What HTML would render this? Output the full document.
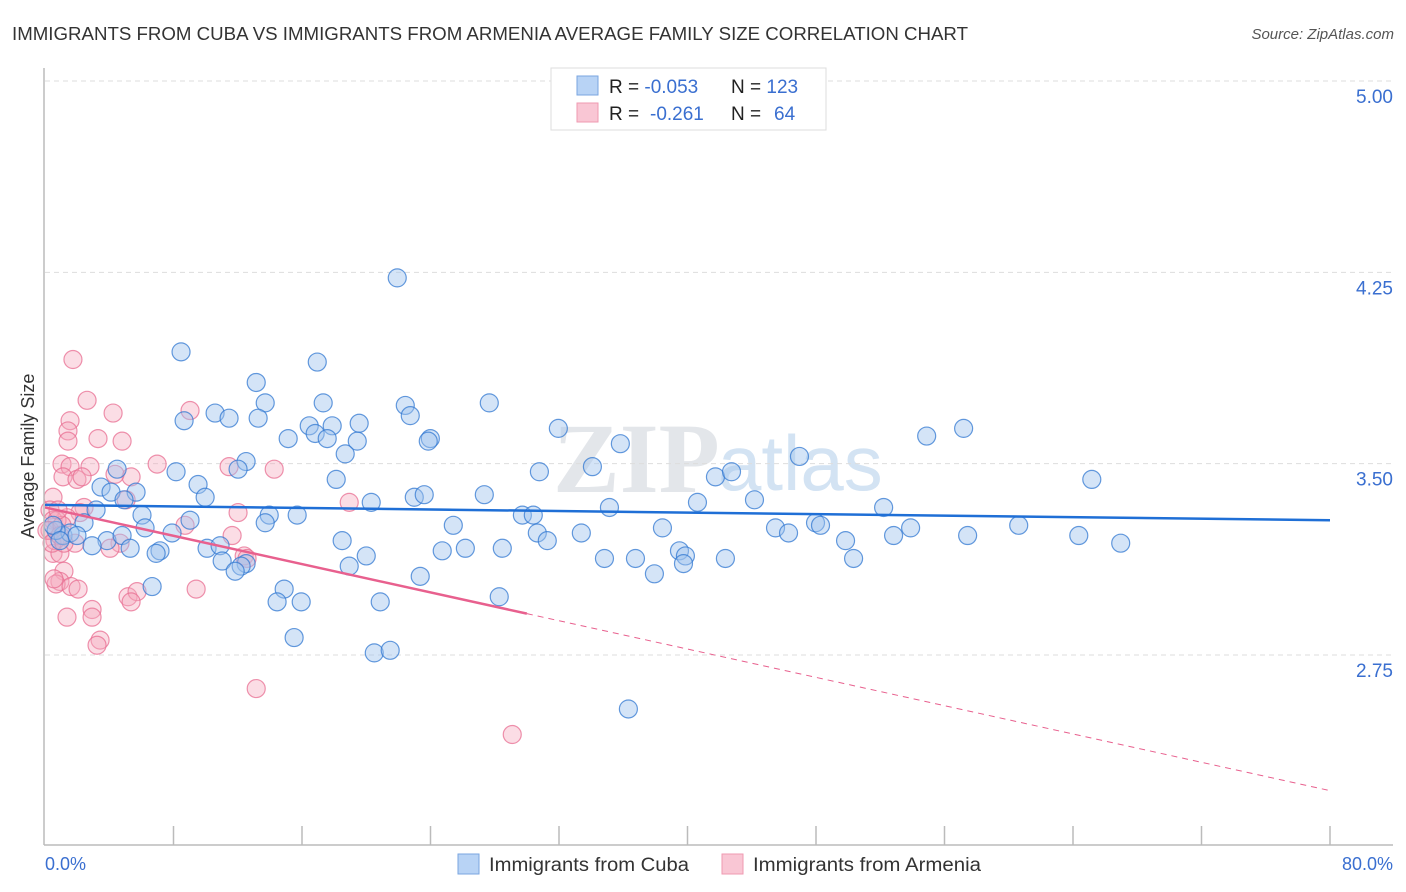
<!DOCTYPE html>
<html><head><meta charset="utf-8"><style>
body{margin:0;background:#fff;font-family:"Liberation Sans",sans-serif;}
svg{display:block}
</style></head><body>
<svg id="chart" width="1406" height="892">
<text x="12" y="40" font-size="18" fill="#333" textLength="956" lengthAdjust="spacingAndGlyphs">IMMIGRANTS FROM CUBA VS IMMIGRANTS FROM ARMENIA AVERAGE FAMILY SIZE CORRELATION CHART</text>
<text x="1394" y="39" font-size="15" fill="#555" font-style="italic" text-anchor="end">Source: ZipAtlas.com</text>
<text x="553" y="492" font-size="100" fill="#e3e6ea" font-family="Liberation Serif" font-weight="bold">ZIP</text>
<text x="718" y="490" font-size="78" fill="#d3e3f3">atlas</text>
<g id="grid"></g>
<g id="pts"></g>
<g id="lines"></g>
<line x1="44" y1="68" x2="44" y2="845" stroke="#bbb" stroke-width="1.5"/>
<line x1="44" y1="845" x2="1393" y2="845" stroke="#bbb" stroke-width="1.5"/>
<g id="xticks"></g>
<text x="45" y="870" font-size="18" fill="#3a6fd0">0.0%</text>
<text x="1393" y="870" font-size="18" fill="#3a6fd0" text-anchor="end">80.0%</text>
<text transform="translate(34,456) rotate(-90)" font-size="18" fill="#333" text-anchor="middle">Average Family Size</text>
<g>
<rect x="551" y="68" width="275" height="62" fill="#fff" stroke="#ddd"/>
<rect x="577" y="76" width="21" height="19" fill="#b8d3f5" stroke="#7aa6e0"/>
<rect x="577" y="103" width="21" height="19" fill="#f9c6d4" stroke="#ef9ab1"/>
<text x="609" y="93" font-size="19" fill="#222">R = <tspan fill="#3a6fd0">-0.053</tspan><tspan x="731">N = </tspan><tspan fill="#3a6fd0">123</tspan></text>
<text x="609" y="120" font-size="19" fill="#222">R = <tspan x="650" fill="#3a6fd0">-0.261</tspan><tspan x="731">N = </tspan><tspan x="774" fill="#3a6fd0">64</tspan></text>
</g>
<g>
<rect x="458" y="854" width="21" height="20" fill="#b8d3f5" stroke="#7aa6e0"/>
<text x="489" y="871" font-size="19" fill="#333" textLength="200" lengthAdjust="spacingAndGlyphs">Immigrants from Cuba</text>
<rect x="722" y="854" width="21" height="20" fill="#f9c6d4" stroke="#ef9ab1"/>
<text x="753" y="871" font-size="19" fill="#333" textLength="228" lengthAdjust="spacingAndGlyphs">Immigrants from Armenia</text>
</g>
</svg>
<script>
const yTicks=[5.00,4.25,3.50,2.75];
const xTickVals=[0,8,16,24,32,40,48,56,64,72,80];
const cubaX=[21.93,8.47,16.95,13.15,13.71,17.32,27.66,22.43,10.59,8.66,11.46,13.27,16.45,17.88,19.56,22.74,15.14,16.82,17.57,19.44,23.99,23.86,31.96,35.82,54.89,57.19,18.69,12.52,12.02,8.16,4.49,34.08,30.78,41.74,42.74,46.97,65.17,3.49,9.53,4.11,5.67,4.92,9.97,18.13,22.99,23.61,27.35,20.31,44.17,40.62,52.21,3.18,6.04,9.03,13.96,15.70,35.14,29.72,30.40,2.43,6.23,7.91,13.71,25.42,38.44,45.48,47.97,48.28,60.62,46.29,53.89,52.83,57.44,64.36,66.97,33.39,30.65,31.27,18.50,1.12,1.56,1.99,3.86,4.80,2.93,5.30,7.16,6.92,10.09,10.90,24.73,26.17,28.47,49.84,39.50,34.83,36.76,39.87,42.36,50.34,11.03,12.52,12.21,20.00,39.75,18.94,23.36,37.94,11.84,14.89,6.67,14.45,15.95,20.87,28.28,15.51,20.50,21.49,36.32,0.69,0.50,0.93];
const cubaY=[4.24,3.95,3.91,3.83,3.75,3.75,3.75,3.74,3.71,3.68,3.69,3.69,3.66,3.66,3.67,3.70,3.61,3.63,3.61,3.60,3.61,3.60,3.65,3.59,3.62,3.65,3.55,3.52,3.49,3.48,3.49,3.50,3.48,3.46,3.48,3.54,3.45,3.42,3.43,3.40,3.40,3.37,3.38,3.45,3.38,3.39,3.39,3.36,3.37,3.36,3.34,3.33,3.31,3.29,3.31,3.31,3.34,3.31,3.31,3.28,3.26,3.24,3.28,3.27,3.26,3.26,3.28,3.27,3.27,3.24,3.26,3.23,3.23,3.23,3.20,3.24,3.24,3.21,3.21,3.23,3.24,3.23,3.21,3.23,3.19,3.18,3.17,3.16,3.18,3.19,3.17,3.18,3.18,3.21,3.17,3.14,3.14,3.15,3.14,3.14,3.13,3.12,3.11,3.15,3.12,3.11,3.07,3.08,3.09,3.02,3.03,2.97,2.97,2.97,2.99,2.83,2.77,2.78,2.55,3.25,3.27,3.21];
const armX=[1.74,2.62,1.56,4.24,9.03,1.43,3.30,4.80,1.43,1.06,1.56,2.80,6.98,11.46,14.27,1.12,1.99,2.31,5.36,4.36,0.50,5.05,18.94,2.43,2.18,1.37,0.31,0.50,8.72,12.02,11.65,4.67,1.87,4.05,12.40,12.58,0.50,0.93,1.18,0.93,0.69,0.56,1.62,2.06,2.93,5.17,5.73,5.36,2.93,1.37,3.43,3.24,9.41,13.15,29.09,0.75,0.31,0.62,0.12,1.06,0.81,0.44,0.93,1.18];
const armY=[3.92,3.76,3.68,3.71,3.72,3.64,3.61,3.60,3.60,3.51,3.50,3.50,3.51,3.50,3.49,3.46,3.45,3.46,3.46,3.47,3.38,3.37,3.36,3.34,3.32,3.30,3.33,3.29,3.27,3.32,3.23,3.20,3.20,3.18,3.15,3.14,3.16,3.16,3.09,3.05,3.04,3.06,3.03,3.02,2.94,2.99,3.01,2.97,2.91,2.91,2.82,2.80,3.02,2.63,2.45,3.29,3.25,3.21,3.25,3.27,3.33,3.20,3.23,3.20];
const cubaTrend=[3.35,3.29];
const armTrend=[3.34,2.23];
const armSolidEnd=30;
const X=v=>45+v*(1285/80);
const Y=v=>81+(5-v)*255.1;
const Yp=v=>Y(v)+3;
const NS="http://www.w3.org/2000/svg";
function mk(tag,attrs,parent){const e=document.createElementNS(NS,tag);for(const k in attrs)e.setAttribute(k,attrs[k]);document.getElementById(parent).appendChild(e);return e;}
yTicks.forEach(v=>{
  const l=mk('line',{x1:45,x2:1393,y1:Y(v),y2:Y(v),stroke:'#ddd','stroke-dasharray':'5,4'},'grid');
  
  
  const t=mk('text',{x:1393,y:Y(v)+22,'font-size':19,fill:'#3a6fd0','text-anchor':'end'},'grid');
  t.textContent=v.toFixed(2);
  
  
});
xTickVals.forEach(v=>{
  if(v===0)return;
  const l=mk('line',{x1:X(v),x2:X(v),y1:826,y2:845,stroke:'#bbb','stroke-width':1.5},'xticks');
  
  
});
armX.forEach((x,i)=>{
  const c=mk('circle',{cx:X(x),cy:Yp(armY[i]),r:9,fill:'rgba(246,170,190,0.4)',stroke:'rgba(232,110,145,0.75)','stroke-width':1.2},'pts');
  
  
});
cubaX.forEach((x,i)=>{
  const c=mk('circle',{cx:X(x),cy:Yp(cubaY[i]),r:9,fill:'rgba(160,196,238,0.45)',stroke:'rgba(50,120,210,0.75)','stroke-width':1.2},'pts');
  
  
});
const a=mk('line',{x1:X(0),y1:Yp(cubaTrend[0]),x2:X(80),y2:Yp(cubaTrend[1]),stroke:'#1f6fd6','stroke-width':2.5},'lines');


const ym=armTrend[0]+(armTrend[1]-armTrend[0])*armSolidEnd/80;
const b=mk('line',{x1:X(0),y1:Yp(armTrend[0]),x2:X(armSolidEnd),y2:Yp(ym),stroke:'#e8608e','stroke-width':2.5},'lines');


const d=mk('line',{x1:X(armSolidEnd),y1:Yp(ym),x2:X(80),y2:Yp(armTrend[1]),stroke:'#e8608e','stroke-width':1,'stroke-dasharray':'6,5'},'lines');


</script>
</body></html>
